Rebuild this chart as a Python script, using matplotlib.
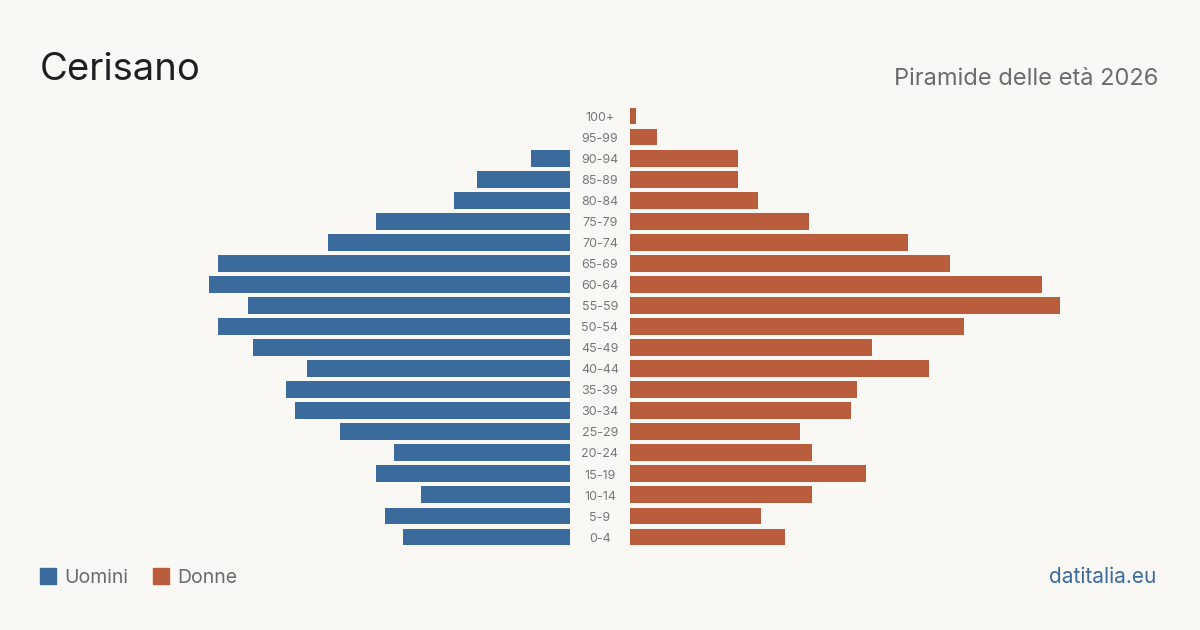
import matplotlib.pyplot as plt
from matplotlib.patches import Rectangle

plt.rcParams['font.family'] = ['Inter', 'DejaVu Sans']

age_groups = ['0-4', '5-9', '10-14', '15-19', '20-24', '25-29', '30-34', '35-39',
              '40-44', '45-49', '50-54', '55-59', '60-64', '65-69', '70-74',
              '75-79', '80-84', '85-89', '90-94', '95-99', '100+']
men = [24.9, 27.5, 22.2, 28.9, 26.2, 34.2, 40.9, 42.3, 39.1, 47.2, 52.4,
       47.9, 53.7, 52.4, 36.0, 28.9, 17.3, 13.8, 5.8, 0, 0]
women = [23.1, 19.5, 27.1, 35.1, 27.1, 25.3, 32.9, 33.8, 44.5, 36.0, 49.7,
         64.0, 61.3, 47.6, 41.4, 26.6, 19.0, 16.1, 16.1, 4.0, 0.9]

BG = '#f9f8f4'
BLUE = '#3b6b9c'
ORANGE = '#b95d3d'

W, H = 1200, 630
fig = plt.figure(figsize=(12, 6.3), dpi=100, facecolor=BG)

# pixel layout
px_per_unit = 6.72
half_w = 500
top_px, bot_px = 105.5, 547.5
bottom = 1 - bot_px / H
height = (bot_px - top_px) / H
xmax = half_w / px_per_unit

ax_l = fig.add_axes([(570 - half_w) / W, bottom, half_w / W, height])
ax_r = fig.add_axes([630 / W, bottom, half_w / W, height])

y = list(range(len(age_groups)))
ax_l.barh(y, men, height=0.8, color=BLUE)
ax_r.barh(y, women, height=0.8, color=ORANGE)

ax_l.set_xlim(xmax, 0)
ax_r.set_xlim(0, xmax)
for ax in (ax_l, ax_r):
    ax.set_ylim(-0.5, len(age_groups) - 0.5)
    ax.axis('off')
    ax.set_facecolor(BG)

# age labels in the gap
for i, lab in enumerate(age_groups):
    ax_r.text(-30 / px_per_unit, i - 0.08, lab, ha='center', va='center',
              fontsize=9, color='#777777', clip_on=False)

fig.text(40 / W, 1 - 80 / H, 'Cerisano', fontsize=27.5, color='#1f1f1f',
         ha='left', va='baseline')
fig.text(1158 / W, 1 - 85 / H, 'Piramide delle età 2026', fontsize=17,
         color='#6b6b6b', ha='right', va='baseline')

# legend
fig.patches.append(Rectangle((40 / W, 1 - 584 / H), 16 / W, 16 / H,
                             transform=fig.transFigure, color=BLUE))
fig.text(64 / W, 1 - 583 / H, 'Uomini', fontsize=14, color='#6b6b6b',
         ha='left', va='baseline')
fig.patches.append(Rectangle((153 / W, 1 - 584 / H), 16 / W, 16 / H,
                             transform=fig.transFigure, color=ORANGE))
fig.text(177 / W, 1 - 583 / H, 'Donne', fontsize=14, color='#6b6b6b',
         ha='left', va='baseline')

fig.text(1156 / W, 1 - 583 / H, 'datitalia.eu', fontsize=15, color=BLUE,
         ha='right', va='baseline')

fig.savefig('out.png', dpi=100, facecolor=BG)
